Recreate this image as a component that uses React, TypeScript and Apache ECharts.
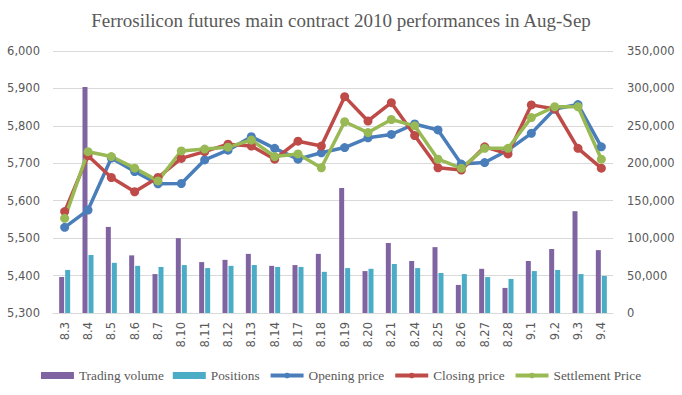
import React, { useEffect, useRef } from "react";
import * as echarts from "echarts";

const categories = ["8.3","8.4","8.5","8.6","8.7","8.10","8.11","8.12","8.13","8.14","8.17","8.18","8.19","8.20","8.21","8.24","8.25","8.26","8.27","8.28","9.1","9.2","9.3","9.4"];
const tradingVolume = [48000,302000,115000,77000,52000,100000,68000,71000,79000,63000,64000,79000,167000,56000,93500,69500,88000,37500,59000,33500,69500,85500,136000,84000];
const positions = [57500,77500,67000,63000,61500,64000,60000,63000,64000,61500,61500,55000,60000,59000,65500,60000,53500,52000,48000,45500,56000,57500,52000,49500];
const openingPrice = [5529,5575,5714,5678,5645,5646,5709,5735,5771,5740,5711,5728,5742,5768,5777,5805,5789,5698,5702,5735,5780,5845,5857,5744];
const closingPrice = [5571,5720,5662,5624,5662,5713,5731,5751,5746,5711,5759,5746,5878,5813,5862,5774,5688,5682,5744,5725,5856,5845,5740,5687];
const settlementPrice = [5553,5731,5718,5687,5653,5733,5738,5743,5762,5718,5725,5688,5811,5782,5817,5800,5711,5687,5740,5740,5822,5851,5851,5711];
const titleText = "Ferrosilicon futures main contract 2010 performances in Aug-Sep";

const fmt = (v: number) => Number(v).toLocaleString("en-US");

export default function App() {
  const ref = useRef<HTMLDivElement>(null);
  useEffect(() => {
    if (!ref.current) return;
    const chart = echarts.init(ref.current, null, { renderer: "svg" });
    const axisFont = { fontFamily: "DejaVu Sans", fontSize: 11.5, color: "#595959" };
    const lineSeries = (name: string, data: number[], color: string) => ({
      name,
      type: "line",
      yAxisIndex: 0,
      data,
      symbol: "circle",
      symbolSize: 9,
      z: 5,
      lineStyle: { color, width: 3.5 },
      itemStyle: { color },
    });
    chart.setOption({
      animation: false,
      backgroundColor: "#ffffff",
      title: {
        text: titleText,
        left: "center",
        top: 6,
        textStyle: { fontFamily: "Liberation Serif", fontSize: 19, fontWeight: "normal", color: "#595959" },
      },
      legend: {
        bottom: 8,
        left: "center",
        itemWidth: 33,
        itemHeight: 7,
        itemGap: 9,
        lineStyle: { width: 4 },
        textStyle: { fontFamily: "Liberation Serif", fontSize: 13.3, color: "#595959" },
        data: [
          { name: "Trading volume", icon: "rect" },
          { name: "Positions", icon: "rect" },
          "Opening price",
          "Closing price",
          "Settlement Price",
        ],
      },
      grid: { left: 53, right: 69, top: 51, bottom: 82 },
      xAxis: {
        type: "category",
        data: categories,
        axisTick: { show: false },
        axisLine: { lineStyle: { color: "#d9d9d9" } },
        axisLabel: { ...axisFont, rotate: 90, interval: 0, margin: 9 },
      },
      yAxis: [
        {
          type: "value",
          min: 5300,
          max: 6000,
          interval: 100,
          axisLine: { show: false },
          axisTick: { show: false },
          splitLine: { lineStyle: { color: "#d9d9d9" } },
          axisLabel: { ...axisFont, formatter: fmt, margin: 13 },
        },
        {
          type: "value",
          min: 0,
          max: 350000,
          interval: 50000,
          axisLine: { show: false },
          axisTick: { show: false },
          splitLine: { show: false },
          axisLabel: { ...axisFont, formatter: fmt, margin: 14 },
        },
      ],
      series: [
        {
          name: "Trading volume",
          type: "bar",
          yAxisIndex: 1,
          data: tradingVolume,
          barWidth: 5,
          barGap: "20%",
          itemStyle: { color: "#8064a2" },
          z: 2,
        },
        {
          name: "Positions",
          type: "bar",
          yAxisIndex: 1,
          data: positions,
          barWidth: 5,
          barGap: "20%",
          itemStyle: { color: "#4bacc6" },
          z: 2,
        },
        lineSeries("Opening price", openingPrice, "#4a7ebb"),
        lineSeries("Closing price", closingPrice, "#be4b48"),
        lineSeries("Settlement Price", settlementPrice, "#98b954"),
      ],
    });
    return () => chart.dispose();
  }, []);
  return (
    <div
      ref={ref}
      style={{ position: "absolute", left: 0, top: 0, width: 682, height: 395, background: "#fff" }}
    />
  );
}
